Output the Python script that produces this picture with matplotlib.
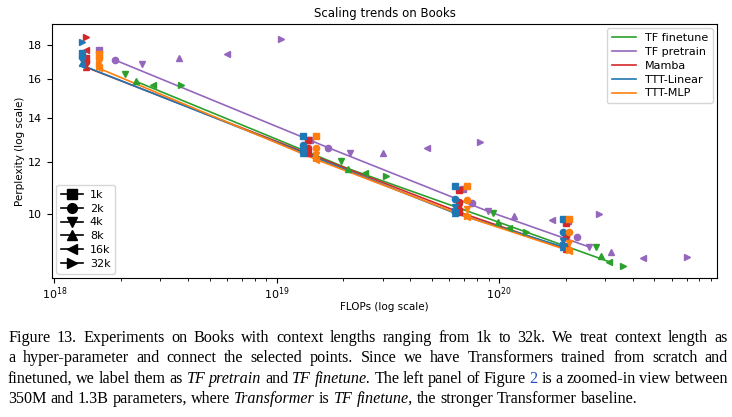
import numpy as np
import matplotlib
matplotlib.use("Agg")
import matplotlib.pyplot as plt
from matplotlib.lines import Line2D
from matplotlib.ticker import NullLocator, FixedLocator, FixedFormatter

nan = np.nan

contexts = ["1k", "2k", "4k", "8k", "16k", "32k"]
ctx_markers = ["s", "o", "v", "^", "<", ">"]

model_names = ["TF finetune", "TF pretrain", "Mamba", "TTT-Linear", "TTT-MLP"]
model_colors = ["#2ca02c", "#9467bd", "#d62728", "#1f77b4", "#ff7f0e"]

# TF finetune: (4 model sizes) x (6 context lengths)
tf_finetune_flops = [
    [nan, nan, 2.07e18, 2.32e18, 2.79e18, 3.70e18],
    [nan, nan, 1.94e19, 2.09e19, 2.49e19, 3.12e19],
    [nan, nan, 9.39e19, 9.89e19, 1.11e20, 1.32e20],
    [nan, nan, 2.73e20, 2.88e20, 3.13e20, 3.62e20],
]
tf_finetune_ppl = [
    [nan, nan, 16.28, 15.89, 15.67, 15.67],
    [nan, nan, 12.01, 11.72, 11.52, 11.40],
    [nan, nan, 10.03, 9.73, 9.53, 9.40],
    [nan, nan, 8.92, 8.65, 8.47, 8.33],
]
tf_finetune_best = [3, 3, 3, 4]

# TF pretrain
tf_pretrain_flops = [
    [1.58e18, 1.88e18, 2.47e18, 3.62e18, 5.96e18, 1.05e19],
    [1.41e19, 1.71e19, 2.15e19, 3.00e19, 4.74e19, 8.21e19],
    [6.88e19, 7.55e19, 8.91e19, 1.17e20, 1.73e20, 2.82e20],
    [2.04e20, 2.24e20, 2.54e20, 3.20e20, 4.46e20, 7.03e20],
]
tf_pretrain_ppl = [
    [17.69, 17.10, 16.86, 17.21, 17.45, 18.38],
    [12.96, 12.60, 12.39, 12.39, 12.60, 12.87],
    [10.90, 10.39, 10.10, 9.93, 9.79, 10.00],
    [9.76, 9.24, 8.92, 8.77, 8.59, 8.62],
]
tf_pretrain_best = [1, 1, 2, 2]

# Mamba (FLOPs per model size, same for all context lengths)
mamba_flops = [1.39e18, 1.38e19, 6.61e19, 2.00e20]
mamba_ppl = [
    [17.21, 16.97, 16.86, 16.68, 17.69, 18.57],
    [12.96, 12.60, 12.45, 12.35, 12.40, 12.50],
    [10.87, 10.42, 10.24, 10.07, 10.12, 10.20],
    [9.69, 9.27, 8.95, 8.86, 8.90, 8.95],
]
mamba_best = [3, 3, 3, 3]

# TTT-Linear
ttt_linear_flops = [1.33e18, 1.31e19, 6.34e19, 1.94e20]
ttt_linear_ppl = [
    [17.51, 17.27, 17.10, 16.91, 16.80, 18.19],
    [13.14, 12.74, 12.52, 12.39, 12.42, 12.45],
    [11.02, 10.53, 10.24, 10.03, 10.06, 10.10],
    [9.83, 9.40, 9.11, 8.92, 8.95, 8.98],
]
ttt_linear_best = [4, 3, 3, 3]

# TTT-MLP
ttt_mlp_flops = [1.58e18, 1.51e19, 7.17e19, 2.07e20]
ttt_mlp_ppl = [
    [17.45, 17.21, 16.97, 16.74, 16.63, 16.86],
    [13.14, 12.60, 12.30, 12.18, 12.09, 12.15],
    [11.02, 10.50, 10.17, 9.97, 9.90, 9.93],
    [9.83, 9.40, 9.05, 8.86, 8.80, 8.83],
]
ttt_mlp_best = [4, 4, 4, 4]

y_ticks = [10, 12, 14, 16, 18]

caption_lines = [
    [("Figure", "n"), ("13.", "n"), ("Experiments", "n"), ("on", "n"), ("Books", "n"), ("with", "n"),
     ("context", "n"), ("lengths", "n"), ("ranging", "n"), ("from", "n"), ("1k", "n"), ("to", "n"),
     ("32k.", "n"), ("We", "n"), ("treat", "n"), ("context", "n"), ("length", "n"), ("as", "n")],
    [("a", "n"), ("hyper-parameter", "n"), ("and", "n"), ("connect", "n"), ("the", "n"), ("selected", "n"),
     ("points.", "n"), ("Since", "n"), ("we", "n"), ("have", "n"), ("Transformers", "n"), ("trained", "n"),
     ("from", "n"), ("scratch", "n"), ("and", "n")],
    [("finetuned,", "n"), ("we", "n"), ("label", "n"), ("them", "n"), ("as", "n"), ("TF", "i"),
     ("pretrain", "i"), ("and", "n"), ("TF", "i"), ("finetune.", "i"), ("The", "n"), ("left", "n"),
     ("panel", "n"), ("of", "n"), ("Figure", "n"), ("2", "b"), ("is", "n"), ("a", "n"),
     ("zoomed-in", "n"), ("view", "n"), ("between", "n")],
    [("350M", "n"), ("and", "n"), ("1.3B", "n"), ("parameters,", "n"), ("where", "n"), ("Transformer", "i"),
     ("is", "n"), ("TF", "i"), ("finetune,", "i"), ("the", "n"), ("stronger", "n"), ("Transformer", "n"),
     ("baseline.", "n")],
]

# ---------------------------------------------------------------------------
W, H = 732, 417
fig = plt.figure(figsize=(W / 100, H / 100), dpi=100)
ax = fig.add_axes([52 / W, 1 - 278 / H, (717 - 52) / W, (278 - 24) / H])

fs = 8
series = [
    (tf_finetune_flops, tf_finetune_ppl, tf_finetune_best, True),
    (tf_pretrain_flops, tf_pretrain_ppl, tf_pretrain_best, True),
    (mamba_flops, mamba_ppl, mamba_best, False),
    (ttt_linear_flops, ttt_linear_ppl, ttt_linear_best, False),
    (ttt_mlp_flops, ttt_mlp_ppl, ttt_mlp_best, False),
]

for (flops, ppl, best, per_ctx), name, col in zip(series, model_names, model_colors):
    bx, by = [], []
    for s in range(4):
        for c in range(6):
            fx = flops[s][c] if per_ctx else flops[s]
            py = ppl[s][c]
            if np.isnan(py):
                continue
            ax.plot([fx], [py], marker=ctx_markers[c], color=col, markersize=4.5,
                    linestyle="none", zorder=3)
        b = best[s]
        bx.append(flops[s][b] if per_ctx else flops[s])
        by.append(ppl[s][b])
    ax.plot(bx, by, color=col, lw=1.2, label=name, zorder=2)

ax.set_xscale("log")
ax.set_yscale("log")
ax.set_xlim(0.975e18, 9.6e20)
ax.set_ylim(8.0, 19.4)
ax.yaxis.set_major_locator(FixedLocator(y_ticks))
ax.yaxis.set_major_formatter(FixedFormatter([str(t) for t in y_ticks]))
ax.yaxis.set_minor_locator(NullLocator())
ax.tick_params(labelsize=fs)
ax.tick_params(axis="x", which="both", pad=1.5)
ax.set_title("Scaling trends on Books", fontsize=fs + 0.5, pad=5)
ax.set_xlabel("FLOPs (log scale)", fontsize=fs - 0.5, labelpad=0)
ax.set_ylabel("Perplexity (log scale)", fontsize=fs - 0.5, labelpad=2)

leg1 = ax.legend(loc="upper right", fontsize=fs, handlelength=2.2, borderaxespad=0.4,
                 labelspacing=0.35)
ax.add_artist(leg1)
ctx_handles = [Line2D([0], [0], color="black", marker=m, markersize=7, lw=1.2) for m in ctx_markers]
ax.legend(ctx_handles, contexts, loc="lower left", fontsize=fs, handlelength=2.0,
          borderaxespad=0.4, labelspacing=0.35, handletextpad=0.6)

# caption (justified word by word)
renderer = fig.canvas.get_renderer()
cap_fs = 11.6
cap_family = ["Liberation Serif", "DejaVu Serif"]
x_left, x_right = 8, 728
line_y = [338, 358, 379, 399]
for li, (tokens, yp) in enumerate(zip(caption_lines, line_y)):
    texts = []
    for word, st in tokens:
        t = fig.text(0, 1 - yp / H, word, fontsize=cap_fs, family=cap_family,
                     style="italic" if st == "i" else "normal",
                     color="#1f4fbf" if st == "b" else "black", va="center", ha="left")
        texts.append(t)
    widths = [t.get_window_extent(renderer).width for t in texts]
    if li < len(caption_lines) - 1:
        gap = (x_right - x_left - sum(widths)) / (len(texts) - 1)
        gap = max(gap, 2.0)
    else:
        gap = 4.0
    x = x_left
    for t, w in zip(texts, widths):
        t.set_x(x / W)
        x += w + gap

fig.savefig("out.png", dpi=100)
